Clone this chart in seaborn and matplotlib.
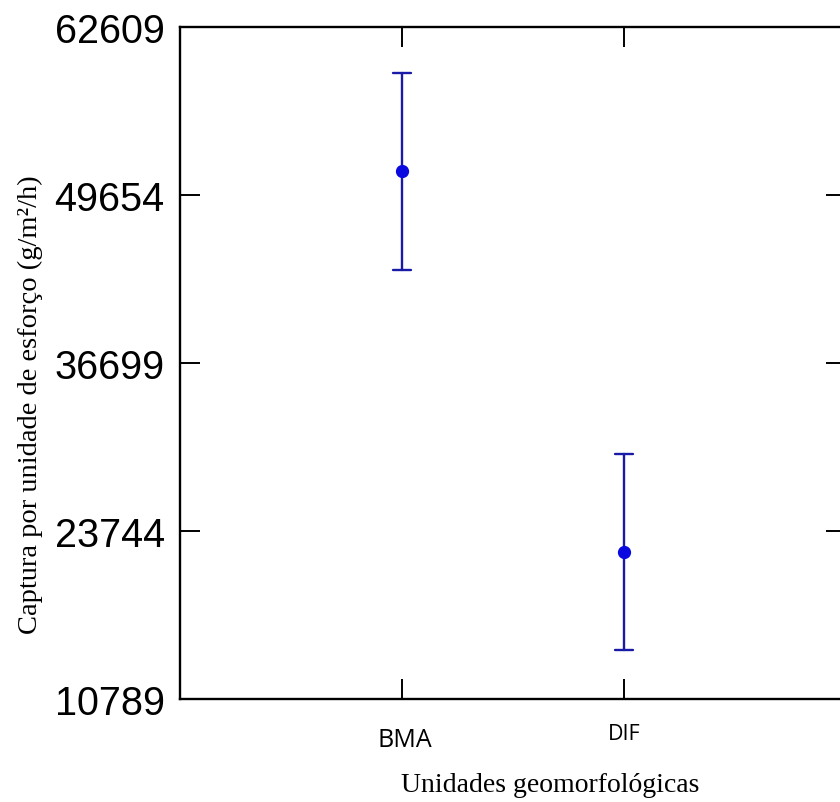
import matplotlib
matplotlib.use("Agg")
import matplotlib.pyplot as plt
import matplotlib.transforms as mtransforms
import seaborn as sns
import pandas as pd

# ---- data ----
categories = ["BMA", "DIF"]
lower = [43870, 14570]
means = [51500, 22125]
upper = [59060, 29680]
yticks = [10789, 23744, 36699, 49654, 62609]

rows = []
for c, lo, m, hi in zip(categories, lower, means, upper):
    for v in (lo, m, hi):
        rows.append({"unit": c, "value": v})
df = pd.DataFrame(rows)

sns.set_theme(style="ticks")
plt.rcParams["font.family"] = ["Liberation Sans", "DejaVu Sans"]
plt.rcParams["text.color"] = "black"
plt.rcParams["xtick.color"] = "black"
plt.rcParams["ytick.color"] = "black"
plt.rcParams["axes.labelcolor"] = "black"

fig = plt.figure(figsize=(8.4, 8.03), dpi=100)
ax = fig.add_axes([180 / 840, 103 / 803, 666 / 840, 672 / 803])

blue = "#1a1aa8"
sns.pointplot(data=df, x="unit", y="value", order=categories,
              estimator="median",
              errorbar=lambda x: (x.min(), x.max()),
              capsize=0.08, linestyle="none", color=blue,
              markers="o", markersize=7.5,
              err_kws={"linewidth": 1.7, "color": blue}, ax=ax)

for ln in ax.lines:
    if ln.get_marker() not in (None, "None", "", " "):
        ln.set_markerfacecolor("#0a0ae0")
        ln.set_markeredgecolor("#0a0ae0")
        ln.set_zorder(5)

ax.set_xlim(-1, 2)
ax.set_ylim(yticks[0], yticks[-1])
ax.set_yticks(yticks)
ax.set_yticklabels([str(t) for t in yticks])
ax.set_xticks(range(len(categories)))
ax.set_xticklabels(categories)

for s in ax.spines.values():
    s.set_visible(True)
    s.set_linewidth(1.7)
    s.set_color("black")

ax.tick_params(axis="both", which="major", direction="in", length=14.4,
               width=1.4, color="black", labelcolor="black", top=True, right=True)
ax.tick_params(axis="y", labelsize=28.5, pad=11)
ax.tick_params(axis="x", pad=17)

for lab in ax.get_xticklabels():
    lab.set_family(["Open Sans", "DejaVu Sans"])
    lab.set_color("black")
    if lab.get_text() == "BMA":
        lab.set_fontsize(18)
        lab.set_transform(lab.get_transform() +
                          mtransforms.ScaledTranslation(0.03, -0.04, fig.dpi_scale_trans))
    else:
        lab.set_fontsize(15.5)

ax.set_xlabel("Unidades geomorfológicas", family=["Liberation Serif", "DejaVu Serif"],
              fontsize=20, va="top", color="black")
ax.xaxis.set_label_coords((550 - 180) / 666, (700 - 773) / 672)
ax.set_ylabel("")

fig.text(30 / 840, (803 - 405) / 803, "Captura por unidade de esforço (g/m²/h)",
         rotation=90, ha="center", va="center", fontsize=20.5, color="black",
         family=["Liberation Serif", "DejaVu Serif"])

fig.savefig("out.png", dpi=100)
